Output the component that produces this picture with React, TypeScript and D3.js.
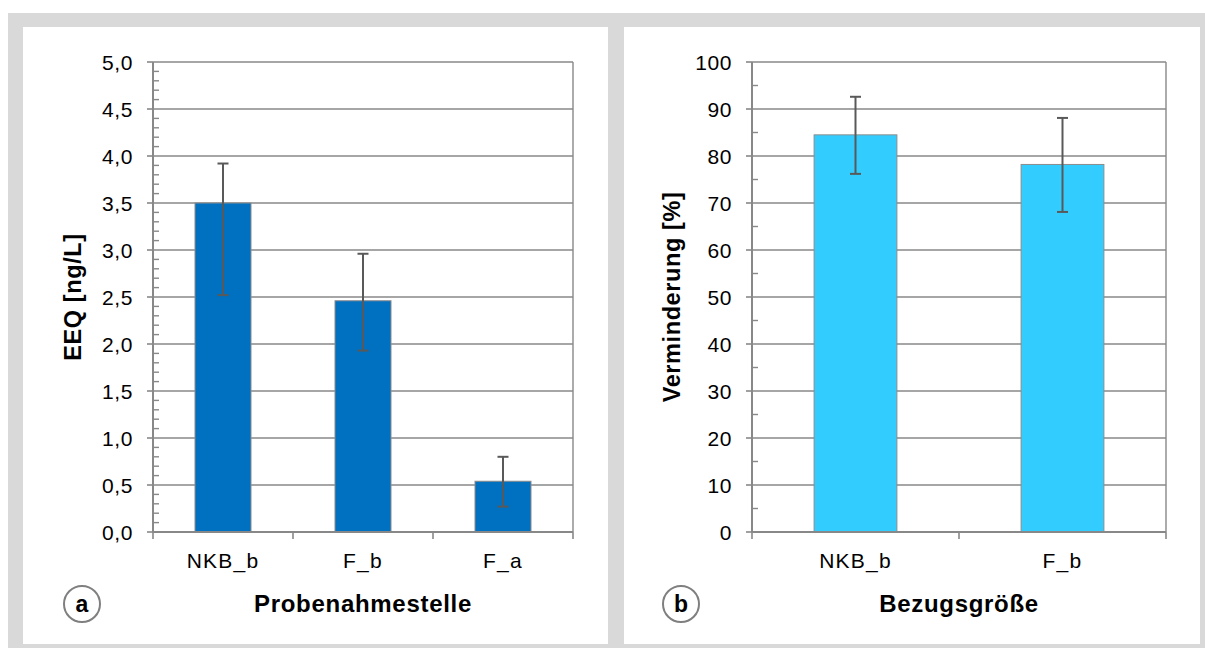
import React from "react";
import * as d3 from "d3";

// Panel a: EEQ per sampling point (mean with lower/upper error limits)
const sitesA = ["NKB_b", "F_b", "F_a"];
const eeqMean = [3.5, 2.46, 0.54];
const eeqLow = [2.52, 1.93, 0.27];
const eeqHigh = [3.92, 2.96, 0.8];
const ticksA = [0, 0.5, 1, 1.5, 2, 2.5, 3, 3.5, 4, 4.5, 5];

// Panel b: reduction per reference quantity
const refsB = ["NKB_b", "F_b"];
const reductionMean = [84.5, 78.2];
const reductionLow = [76.2, 68.1];
const reductionHigh = [92.6, 88.1];
const ticksB = [0, 10, 20, 30, 40, 50, 60, 70, 80, 90, 100];

const FONT = "'Liberation Sans', Arial, Helvetica, sans-serif";
const GRID = "#888888";
const ERR = "#595959";

type PanelProps = {
  left: number;
  right: number;
  top: number;
  bottom: number;
  cats: string[];
  mean: number[];
  low: number[];
  high: number[];
  ticks: number[];
  max: number;
  minorStep: number;
  fmt: (v: number) => string;
  fill: string;
  yTitle: string;
  xTitle: string;
  tag: string;
};

function Panel(p: PanelProps) {
  const y = d3.scaleLinear().domain([0, p.max]).range([p.bottom, p.top]);
  const x = d3
    .scaleBand<string>()
    .domain(p.cats)
    .range([p.left, p.right])
    .paddingInner(0.6)
    .paddingOuter(0.3);
  const step = x.step();
  const minors = d3
    .range(0, p.max + 1e-9, p.minorStep)
    .filter((v) => !p.ticks.some((t) => Math.abs(t - v) < 1e-9));
  const boundaries = d3.range(p.cats.length + 1).map((i) => p.left + i * step);
  const cx = (p.left + p.right) / 2;
  const cy = (p.top + p.bottom) / 2;

  return (
    <g>
      {/* horizontal gridlines */}
      {p.ticks.map((t) => (
        <line key={"g" + t} x1={p.left} x2={p.right} y1={y(t)} y2={y(t)} stroke={GRID} strokeWidth={1.6} />
      ))}
      {/* right border of the plot area */}
      <line x1={p.right} x2={p.right} y1={p.top} y2={p.bottom} stroke={GRID} strokeWidth={1.4} />
      {/* bars */}
      {p.cats.map((c, i) => (
        <rect
          key={"b" + c}
          x={x(c)}
          y={y(p.mean[i])}
          width={x.bandwidth()}
          height={y(0) - y(p.mean[i])}
          fill={p.fill}
          stroke="#8c8c8c"
          strokeWidth={1}
        />
      ))}
      {/* error bars */}
      {p.cats.map((c, i) => {
        const mx = (x(c) as number) + x.bandwidth() / 2;
        return (
          <g key={"e" + c} stroke={ERR} strokeWidth={2}>
            <line x1={mx} x2={mx} y1={y(p.high[i])} y2={y(p.low[i])} />
            <line x1={mx - 5.5} x2={mx + 5.5} y1={y(p.high[i])} y2={y(p.high[i])} />
            <line x1={mx - 5.5} x2={mx + 5.5} y1={y(p.low[i])} y2={y(p.low[i])} />
          </g>
        );
      })}
      {/* y axis */}
      <line x1={p.left} x2={p.left} y1={p.top} y2={p.bottom} stroke={GRID} strokeWidth={2} />
      {p.ticks.map((t) => (
        <line key={"mt" + t} x1={p.left - 6} x2={p.left} y1={y(t)} y2={y(t)} stroke={GRID} strokeWidth={1.6} />
      ))}
      {minors.map((m) => (
        <line key={"mn" + m} x1={p.left} x2={p.left + 6} y1={y(m)} y2={y(m)} stroke={GRID} strokeWidth={1.4} />
      ))}
      {p.ticks.map((t) => (
        <text
          key={"tl" + t}
          x={p.left - 20}
          y={y(t)}
          dy="0.36em"
          textAnchor="end"
          fontFamily={FONT}
          fontSize={21}
          letterSpacing={0.6}
          fill="#000"
        >
          {p.fmt(t)}
        </text>
      ))}
      {/* x axis */}
      <line x1={p.left} x2={p.right} y1={p.bottom} y2={p.bottom} stroke={GRID} strokeWidth={2} />
      {boundaries.map((bx, i) => (
        <line key={"xt" + i} x1={bx} x2={bx} y1={p.bottom} y2={p.bottom + 7} stroke={GRID} strokeWidth={1.6} />
      ))}
      {p.cats.map((c) => (
        <text
          key={"xl" + c}
          x={(x(c) as number) + x.bandwidth() / 2}
          y={p.bottom + 36}
          textAnchor="middle"
          fontFamily={FONT}
          fontSize={21}
          letterSpacing={1.2}
          fill="#000"
        >
          {c}
        </text>
      ))}
      {/* axis titles */}
      <text
        x={cx}
        y={612}
        textAnchor="middle"
        fontFamily={FONT}
        fontSize={24}
        fontWeight="bold"
        letterSpacing={0.7}
        fill="#000"
      >
        {p.xTitle}
      </text>
      <text
        transform={`translate(${p.left - 72},${cy}) rotate(-90)`}
        textAnchor="middle"
        fontFamily={FONT}
        fontSize={23.5}
        fontWeight="bold"
        letterSpacing={0.6}
        fill="#000"
      >
        {p.yTitle}
      </text>
      {/* panel tag */}
      <circle cx={p.left - 71} cy={604} r={18} fill="#fff" stroke="#7f7f7f" strokeWidth={2} />
      <text
        x={p.left - 71}
        y={604}
        dy="0.36em"
        textAnchor="middle"
        fontFamily={FONT}
        fontSize={23}
        fontWeight="bold"
        fill="#000"
      >
        {p.tag}
      </text>
    </g>
  );
}

const commaFmt = (v: number) => d3.format(".1f")(v).replace(".", ",");
const intFmt = (v: number) => d3.format("d")(v);

export default function App() {
  return (
    <svg
      width={1205}
      height={648}
      viewBox="0 0 1205 648"
      style={{ position: "absolute", left: 0, top: 0, display: "block" }}
    >
      <rect x={0} y={0} width={1205} height={648} fill="#fff" />
      <rect x={8} y={13} width={1197} height={635} fill="#d9d9d9" />
      <rect x={23} y={27} width={585} height={617} fill="#fff" />
      <rect x={624} y={27} width={576} height={617} fill="#fff" />
      <Panel
        left={153}
        right={573}
        top={62}
        bottom={532}
        cats={sitesA}
        mean={eeqMean}
        low={eeqLow}
        high={eeqHigh}
        ticks={ticksA}
        max={5}
        minorStep={0.1}
        fmt={commaFmt}
        fill="#0070c0"
        yTitle="EEQ [ng/L]"
        xTitle="Probenahmestelle"
        tag="a"
      />
      <Panel
        left={752}
        right={1166}
        top={62}
        bottom={532}
        cats={refsB}
        mean={reductionMean}
        low={reductionLow}
        high={reductionHigh}
        ticks={ticksB}
        max={100}
        minorStep={5}
        fmt={intFmt}
        fill="#33ccff"
        yTitle="Verminderung [%]"
        xTitle="Bezugsgröße"
        tag="b"
      />
    </svg>
  );
}
